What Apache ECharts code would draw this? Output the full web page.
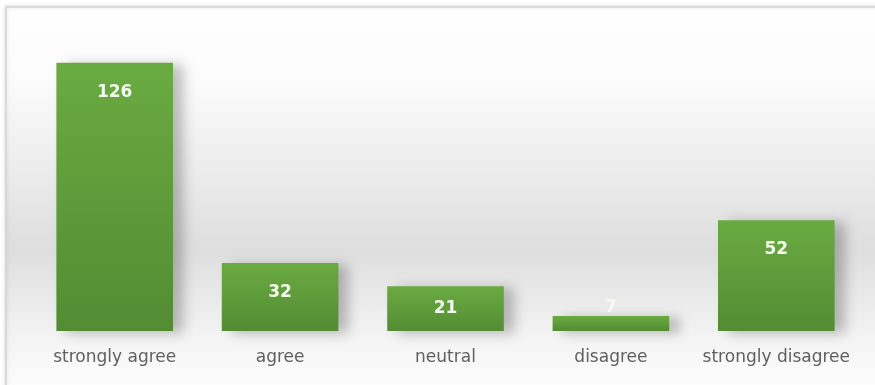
<!DOCTYPE html>
<html>
<head>
<meta charset="utf-8">
<script src="https://cdn.jsdelivr.net/npm/echarts@6/dist/echarts.min.js"></script>
<style>
  html, body { margin: 0; padding: 0; background: #fff; }
  #chart { width: 875px; height: 385px; }
</style>
</head>
<body>
<div id="chart"></div>
<script>
var categories = ['strongly agree', 'agree', 'neutral', 'disagree', 'strongly disagree'];
var counts = [126, 32, 21, 7, 52];

var chartDom = document.getElementById('chart');
var myChart = echarts.init(chartDom);

// short bars: label moves up (or above the bar when it won't fit)
var barData = counts.map(function (v) {
    if (v < 10) {
        return { value: v, label: { position: 'top', distance: 0 } };
    }
    if (v < 25) {
        return { value: v, label: { distance: 14 } };
    }
    return v;
});

var option = {
    animation: false,
    graphic: [{
        type: 'rect',
        z: -10,
        shape: { x: 6, y: 7, width: 880, height: 390 },
        style: {
            fill: new echarts.graphic.LinearGradient(0, 0, 0, 1, [
                { offset: 0, color: '#ffffff' },
                { offset: 0.2, color: '#fbfbfb' },
                { offset: 0.62, color: '#dedede' },
                { offset: 0.85, color: '#f4f4f4' },
                { offset: 1, color: '#ffffff' }
            ]),
            stroke: '#d4d4d4',
            lineWidth: 1.5,
            shadowBlur: 4,
            shadowColor: 'rgba(0,0,0,0.15)'
        }
    }],
    grid: {
        left: 32,
        right: 16,
        top: 33,
        bottom: 54
    },
    xAxis: {
        type: 'category',
        data: categories,
        axisLine: { show: false },
        axisTick: { show: false },
        axisLabel: {
            interval: 0,
            margin: 18,
            fontSize: 17,
            color: '#5f5f5f',
            fontFamily: 'DejaVu Sans'
        }
    },
    yAxis: {
        type: 'value',
        min: 0,
        max: 140,
        show: false,
        splitLine: { show: false }
    },
    series: [{
        type: 'bar',
        data: barData,
        barWidth: '70.5%',
        itemStyle: {
            color: new echarts.graphic.LinearGradient(0, 0, 0, 1, [
                { offset: 0, color: '#6aab41' },
                { offset: 1, color: '#538c33' }
            ]),
            shadowBlur: 12,
            shadowOffsetX: 10,
            shadowOffsetY: 2,
            shadowColor: 'rgba(0,0,0,0.25)'
        },
        label: {
            show: true,
            position: 'insideTop',
            distance: 21,
            color: '#f4fbef',
            fontWeight: 'bold',
            fontSize: 17,
            fontFamily: 'DejaVu Sans'
        }
    }]
};

option && myChart.setOption(option);
</script>
</body>
</html>
